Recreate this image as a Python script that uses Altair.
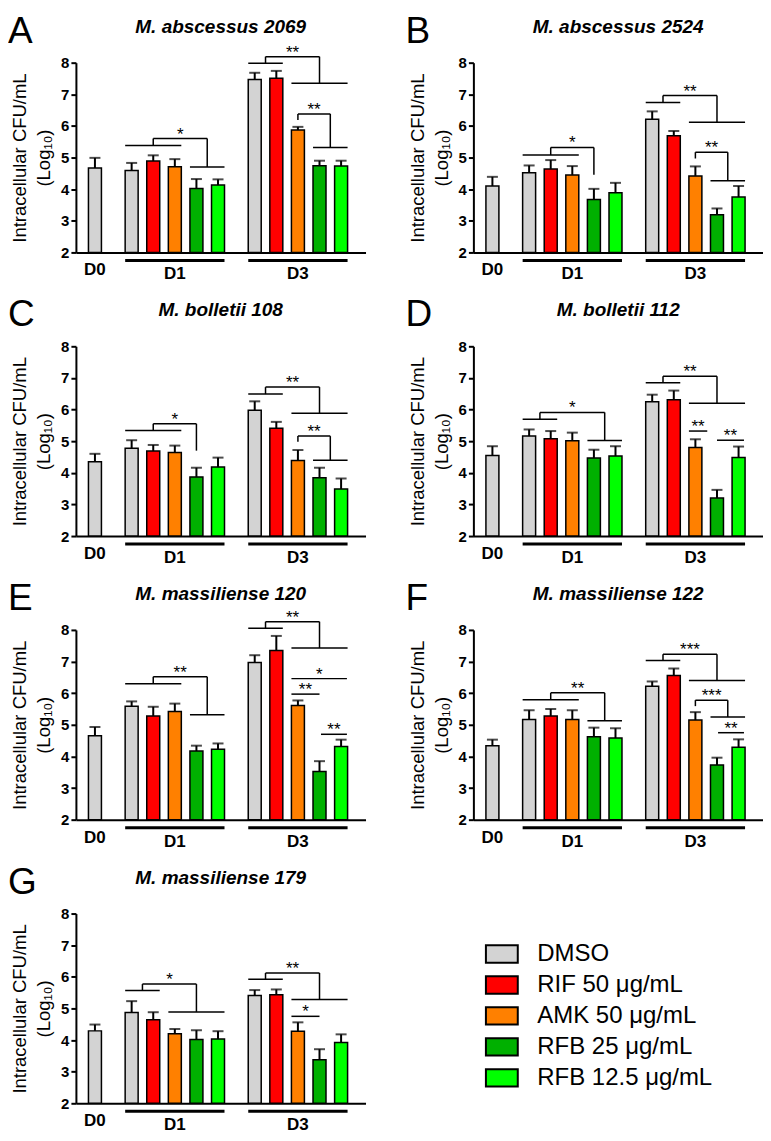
import altair as alt
import pandas as pd

FONT = "Liberation Sans"

treatments = ["DMSO", "RIF 50 μg/mL", "AMK 50 μg/mL", "RFB 25 μg/mL", "RFB 12.5 μg/mL"]
colors = ["#D3D3D3", "#FF0000", "#FF8000", "#00B000", "#00FF00"]
days = ["D0", "D1", "D3"]

panel_letters = ["A", "B", "C", "D", "E", "F", "G"]
panel_titles = ["M. abscessus 2069", "M. abscessus 2524", "M. bolletii 108", "M. bolletii 112",
                "M. massiliense 120", "M. massiliense 122", "M. massiliense 179"]

d0_mean = [4.67, 4.10, 4.35, 4.55, 4.65, 4.34, 4.29]
d0_err = [0.32, 0.29, 0.25, 0.29, 0.28, 0.19, 0.20]

d1_mean = [
    [4.59, 4.89, 4.71, 4.02, 4.13],
    [4.52, 4.64, 4.45, 3.67, 3.89],
    [4.78, 4.69, 4.64, 3.87, 4.18],
    [5.16, 5.08, 5.01, 4.47, 4.53],
    [5.59, 5.28, 5.42, 4.17, 4.23],
    [5.17, 5.28, 5.17, 4.62, 4.58],
    [4.87, 4.64, 4.20, 4.02, 4.03],
]
d1_err = [
    [0.24, 0.18, 0.24, 0.30, 0.18],
    [0.23, 0.28, 0.28, 0.34, 0.31],
    [0.25, 0.19, 0.22, 0.29, 0.30],
    [0.21, 0.24, 0.26, 0.26, 0.31],
    [0.15, 0.29, 0.25, 0.17, 0.18],
    [0.29, 0.22, 0.29, 0.29, 0.31],
    [0.36, 0.24, 0.15, 0.29, 0.25],
]
d3_mean = [
    [7.47, 7.51, 5.87, 4.74, 4.73],
    [6.21, 5.69, 4.42, 3.19, 3.75],
    [5.98, 5.41, 4.39, 3.84, 3.49],
    [6.25, 6.31, 4.80, 3.20, 4.48],
    [6.97, 7.35, 5.61, 3.52, 4.31],
    [6.22, 6.56, 5.15, 3.73, 4.29],
    [5.41, 5.43, 4.28, 3.38, 3.92],
]
d3_err = [
    [0.21, 0.23, 0.10, 0.16, 0.17],
    [0.25, 0.15, 0.30, 0.20, 0.35],
    [0.28, 0.20, 0.33, 0.32, 0.33],
    [0.22, 0.29, 0.26, 0.26, 0.35],
    [0.23, 0.46, 0.16, 0.33, 0.22],
    [0.15, 0.22, 0.25, 0.23, 0.25],
    [0.17, 0.17, 0.28, 0.33, 0.26],
]

# brackets: (day, left_first, left_last, left_level, right_first, right_last, right_level, top_level, label)
brackets = [
    [("D1", 0, 2, 5.38, 3, 4, 4.70, 5.60, "*"),
     ("D3", 0, 1, 7.98, 2, 4, 7.35, 8.19, "**"),
     ("D3", 2, 2, 6.19, 3, 4, 5.32, 6.38, "**")],
    [("D1", 0, 2, 5.08, 3, 3, 4.46, 5.32, "*"),
     ("D3", 0, 1, 6.74, 2, 4, 6.12, 6.96, "**"),
     ("D3", 2, 2, 4.97, 3, 4, 4.27, 5.17, "**")],
    [("D1", 0, 2, 5.34, 3, 3, 4.70, 5.55, "*"),
     ("D3", 0, 1, 6.49, 2, 4, 5.88, 6.71, "**"),
     ("D3", 2, 2, 4.98, 3, 4, 4.40, 5.16, "**")],
    [("D1", 0, 1, 5.69, 3, 4, 5.02, 5.91, "*"),
     ("D3", 0, 1, 6.85, 2, 4, 6.20, 7.05, "**")],
    [("D1", 0, 2, 6.30, 3, 4, 5.32, 6.52, "**"),
     ("D3", 0, 1, 8.05, 2, 4, 7.43, 8.26, "**")],
    [("D1", 0, 2, 5.79, 3, 4, 5.13, 6.01, "**"),
     ("D3", 0, 1, 7.03, 2, 4, 6.40, 7.23, "***"),
     ("D3", 2, 2, 5.59, 3, 4, 5.25, 5.78, "***")],
    [("D1", 0, 1, 5.57, 2, 4, 4.89, 5.77, "*"),
     ("D3", 0, 1, 5.92, 2, 4, 5.28, 6.12, "**")],
]
# simple lines: (day, start, end (bar-index units), level, label)
sig_lines = [
    [],
    [],
    [],
    [("D3", 1.7, 2.55, 5.32, "**"), ("D3", 3.0, 4.25, 5.03, "**")],
    [("D3", 1.7, 4.27, 6.46, "*"), ("D3", 1.7, 3.0, 5.97, "**"), ("D3", 3.07, 4.27, 4.70, "**")],
    [("D3", 3.05, 4.25, 4.75, "**")],
    [("D3", 1.7, 3.0, 4.75, "*")],
]

# layout constants
W, H = 290, 190
DAY_OFFSET = {"D0": 0.0, "D1": 1.7, "D3": 7.4}
HALF = 0.3
xscale = alt.Scale(domain=[-0.65, 12.3], nice=False, zero=False)
yscale = alt.Scale(domain=[2, 8], nice=False, zero=False)

yaxis = alt.Axis(values=[2, 3, 4, 5, 6, 7, 8], format="d", grid=False,
                 labelFontSize=15, labelFontWeight="bold", labelColor="black", labelPadding=2,
                 tickSize=5, tickWidth=2, tickColor="black",
                 domainWidth=2, domainColor="black",
                 title=["Intracellular CFU/mL", "(Log₁₀)"], titleFontSize=18.5,
                 titleFontWeight="normal", titleColor="black", titlePadding=7, titleLineHeight=24)
xaxis = alt.Axis(labels=False, ticks=False, grid=False, domain=True, domainWidth=2,
                 domainColor="black", title=None)


def bpos(day, i):
    return DAY_OFFSET[day] + i


def X(f):
    return alt.X(f, scale=xscale, axis=xaxis)


def Y(f):
    return alt.Y(f, scale=yscale, axis=yaxis)


def make_panel(k):
    rows = [{"pos": bpos("D0", 0), "mean": d0_mean[k], "top": d0_mean[k] + d0_err[k],
             "treatment": treatments[0]}]
    for day, means, errs in (("D1", d1_mean[k], d1_err[k]), ("D3", d3_mean[k], d3_err[k])):
        for i, (m, e) in enumerate(zip(means, errs)):
            rows.append({"pos": bpos(day, i), "mean": m, "top": m + e, "treatment": treatments[i]})
    bars_df = pd.DataFrame(rows)

    segs, labs = [], []
    for (day, la, lb, hl, ra, rb, hr, top, lab) in brackets[k]:
        ml = (bpos(day, la) + bpos(day, lb)) / 2
        mr = (bpos(day, ra) + bpos(day, rb)) / 2
        if lb > la:
            segs.append((bpos(day, la) - HALF, bpos(day, lb) + HALF, hl, hl))
        if rb > ra:
            segs.append((bpos(day, ra) - HALF, bpos(day, rb) + HALF, hr, hr))
        segs.append((ml, ml, hl, top))
        segs.append((ml, mr, top, top))
        segs.append((mr, mr, top, hr))
        labs.append(((ml + mr) / 2, top, lab))
    for (day, s, e, h, lab) in sig_lines[k]:
        segs.append((DAY_OFFSET[day] + s, DAY_OFFSET[day] + e, h, h))
        labs.append((DAY_OFFSET[day] + (s + e) / 2, h, lab))
    seg_df = pd.DataFrame(segs, columns=["x", "x2", "y", "y2"])
    lab_df = pd.DataFrame(labs, columns=["x", "y", "label"])

    under_df = pd.DataFrame([
        {"x": bpos(d, 0) - HALF, "x2": bpos(d, 4) + HALF} for d in ("D1", "D3")])
    d0_lab = pd.DataFrame([{"x": bpos("D0", 0), "label": "D0"}])
    dn_lab = pd.DataFrame([{"x": bpos(d, 2), "label": d} for d in ("D1", "D3")])

    legend = alt.Legend(title=None, orient="none", legendX=411, legendY=877,
                        symbolType="M-1.1,-0.6H1.1V0.6H-1.1Z", symbolSize=841,
                        symbolStrokeColor="black", symbolStrokeWidth=2,
                        labelFontSize=24, labelColor="black", labelOffset=20, labelLimit=400,
                        rowPadding=2, padding=0)

    bars = alt.Chart(bars_df).mark_bar(size=13, stroke="black", strokeWidth=1.5).encode(
        x=X("pos:Q"),
        y=Y("mean:Q"),
        y2=alt.datum(2),
        color=alt.Color("treatment:N", scale=alt.Scale(domain=treatments, range=colors), legend=legend),
    )
    stems = alt.Chart(bars_df).mark_rule(strokeWidth=2, color="black").encode(
        x=X("pos:Q"), y=Y("mean:Q"), y2="top:Q")
    caps = alt.Chart(bars_df).mark_tick(orient="horizontal", size=11, thickness=2, color="black").encode(
        x=X("pos:Q"), y=Y("top:Q"))
    sig = alt.Chart(seg_df).mark_rule(strokeWidth=1.5, color="black").encode(
        x=X("x:Q"), x2="x2:Q", y=Y("y:Q"), y2="y2:Q")
    sig_txt = alt.Chart(lab_df).mark_text(fontSize=17, baseline="alphabetic", dy=1, color="black").encode(
        x=X("x:Q"), y=Y("y:Q"), text="label:N")
    under = alt.Chart(under_df).mark_rule(strokeWidth=3, color="black").encode(
        x=X("x:Q"), x2="x2:Q", y=alt.value(H + 8))
    d0_txt = alt.Chart(d0_lab).mark_text(fontSize=17, fontWeight="bold", baseline="middle", color="black").encode(
        x=X("x:Q"), y=alt.value(H + 18), text="label:N")
    dn_txt = alt.Chart(dn_lab).mark_text(fontSize=17, fontWeight="bold", baseline="middle", color="black").encode(
        x=X("x:Q"), y=alt.value(H + 22), text="label:N")
    title = alt.Chart(pd.DataFrame({"t": [panel_titles[k]]})).mark_text(
        fontSize=19, fontWeight="bold", fontStyle="italic", baseline="middle", align="center", color="black"
    ).encode(x=alt.value(W / 2), y=alt.value(-36), text="t:N")
    letter = alt.Chart(pd.DataFrame({"t": [panel_letters[k]]})).mark_text(
        fontSize=37, baseline="alphabetic", align="left", color="black"
    ).encode(x=alt.value(-68), y=alt.value(-20), text="t:N")

    return alt.layer(bars, stems, caps, sig, sig_txt, under, d0_txt, dn_txt, title, letter).properties(
        width=W, height=H)


panels = [make_panel(k) for k in range(7)]
rows = [alt.hconcat(panels[0], panels[1], spacing=40),
        alt.hconcat(panels[2], panels[3], spacing=40),
        alt.hconcat(panels[4], panels[5], spacing=40),
        panels[6]]
chart = alt.vconcat(*rows, spacing=14).properties(
    padding={"left": 0, "top": 4, "right": 0, "bottom": 0}
).configure(font=FONT).configure_view(stroke=None)

chart.save("out.html", embed_options={"renderer": "svg", "actions": False})
